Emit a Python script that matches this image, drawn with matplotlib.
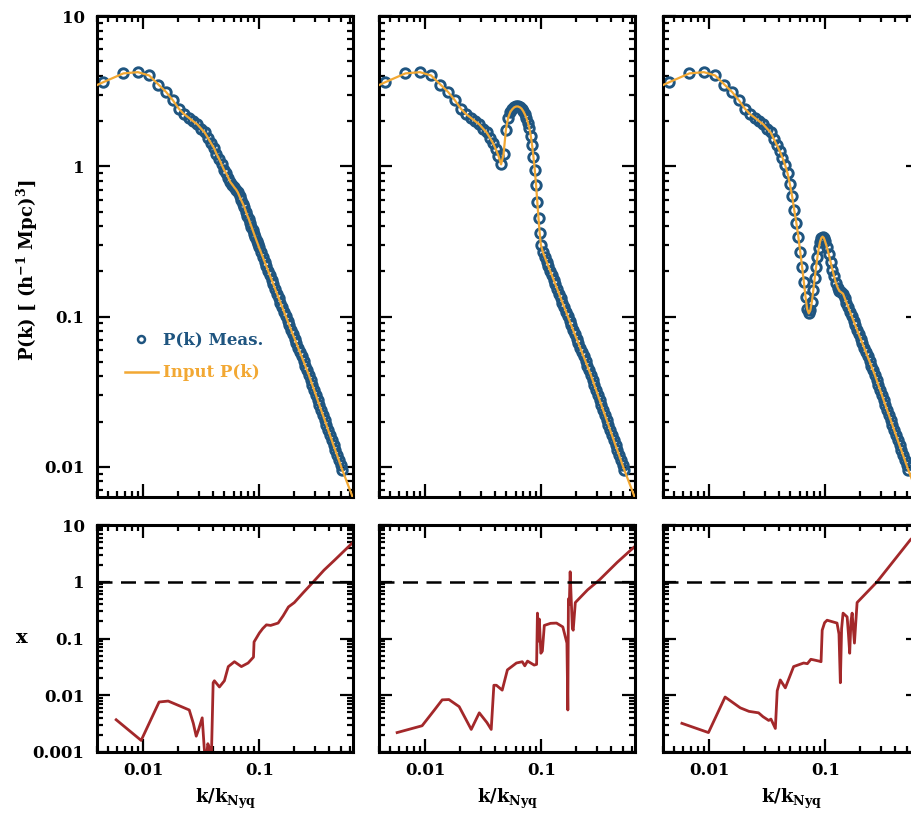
import numpy as np
import matplotlib
matplotlib.use("Agg")
import matplotlib.pyplot as plt
from matplotlib.ticker import LogLocator, FuncFormatter, NullFormatter
from matplotlib.lines import Line2D

plt.rcParams["font.family"] = ["DejaVu Serif"]
plt.rcParams["font.weight"] = "bold"
plt.rcParams["mathtext.fontset"] = "dejavuserif"
plt.rcParams["mathtext.default"] = "bf"

# ── measured P(k): shared k bins ─────────────────────
k_low = [0.0045, 0.00675, 0.009, 0.01125, 0.0135, 0.01575, 0.018, 0.02025,
         0.0225, 0.02475, 0.027, 0.02925, 0.0315, 0.03375]
k_mid = [0.036, 0.03825, 0.0405, 0.04275, 0.045, 0.04725, 0.0495, 0.05175,
         0.054, 0.05625, 0.0585, 0.06075, 0.063, 0.06525, 0.0675, 0.06975,
         0.072, 0.07425, 0.0765, 0.07875, 0.081, 0.08325, 0.0855, 0.08775,
         0.09, 0.09225, 0.0945, 0.09675, 0.099, 0.103, 0.107, 0.111, 0.115,
         0.119, 0.123, 0.128, 0.132, 0.137]
k_high = [0.142, 0.147, 0.152, 0.157, 0.163, 0.169, 0.175, 0.181, 0.187,
          0.194, 0.201, 0.208, 0.216, 0.223, 0.231, 0.24, 0.248, 0.257,
          0.266, 0.276, 0.285, 0.296, 0.306, 0.317, 0.328, 0.34, 0.352,
          0.365, 0.378, 0.391, 0.405, 0.42, 0.435, 0.45, 0.466, 0.483,
          0.5, 0.518]

p_low = [3.62, 4.15, 4.23, 4.02, 3.5, 3.12, 2.75, 2.42, 2.22, 2.10, 1.99,
         1.90, 1.78, 1.68]
p_high = [0.1418, 0.1323, 0.1238, 0.1162, 0.1078, 0.1003, 0.0936, 0.0874,
          0.0819, 0.0762, 0.0713, 0.0667, 0.0619, 0.0581, 0.0543, 0.0504,
          0.0472, 0.044, 0.0411, 0.0379, 0.0353, 0.0325, 0.0302, 0.0279,
          0.0259, 0.0239, 0.0222, 0.0205, 0.019, 0.0176, 0.0163, 0.01505,
          0.0139, 0.01295, 0.012, 0.0111, 0.01028, 0.00954]

# the three panels differ only in the feature region
p_mid_1 = [1.55, 1.43, 1.33, 1.21, 1.12, 1.03, 0.95, 0.90, 0.84, 0.785,
           0.755, 0.725, 0.70, 0.67, 0.63, 0.595, 0.565, 0.535, 0.50, 0.47,
           0.447, 0.42, 0.397, 0.375, 0.355, 0.337, 0.32, 0.305, 0.29,
           0.2688, 0.249, 0.2314, 0.2157, 0.2015, 0.1887, 0.1744, 0.164,
           0.1523]
p_mid_2 = [1.55, 1.43, 1.3, 1.17, 1.03, 1.2, 1.75, 2.1, 2.3, 2.4, 2.47,
           2.5, 2.5, 2.47, 2.42, 2.33, 2.22, 2.1, 1.95, 1.8, 1.6, 1.38,
           1.15, 0.95, 0.75, 0.58, 0.45, 0.36, 0.30, 0.2688, 0.249, 0.2314,
           0.2157, 0.2015, 0.1887, 0.1744, 0.164, 0.1523]
p_mid_3 = [1.52, 1.38, 1.26, 1.14, 1.02, 0.9, 0.76, 0.63, 0.51, 0.42, 0.34,
           0.27, 0.215, 0.17, 0.135, 0.112, 0.105, 0.11, 0.125, 0.15, 0.18,
           0.215, 0.25, 0.285, 0.315, 0.333, 0.34, 0.335, 0.32, 0.29, 0.26,
           0.23, 0.205, 0.185, 0.168, 0.155, 0.148, 0.145]

# input P(k) runs a bit further than the measured bins
k_in_lo, p_in_lo = 0.004, 3.47
k_in_hi, p_in_hi = 0.64, 0.0062

# ── relative error (bottom row) ──────────────────────
k_err_1 = [0.00585, 0.0096, 0.0137, 0.0164, 0.0213, 0.0249, 0.027, 0.0286,
           0.030, 0.0322, 0.0335, 0.0345, 0.0360, 0.037, 0.0385, 0.040,
           0.041, 0.0453, 0.050, 0.054, 0.061, 0.070, 0.080, 0.089, 0.090,
           0.1, 0.107, 0.115, 0.125, 0.145, 0.16, 0.178, 0.2, 0.24, 0.292,
           0.36, 0.444, 0.63]
err_1 = [0.0037, 0.0016, 0.0076, 0.0079, 0.0063, 0.0055, 0.0032, 0.0019,
         0.0025, 0.0040, 0.0012, 0.0006, 0.0014, 0.0012, 0.0006, 0.0166,
         0.018, 0.014, 0.018, 0.032, 0.039, 0.032, 0.037, 0.047, 0.087,
         0.125, 0.15, 0.174, 0.17, 0.187, 0.25, 0.36, 0.43, 0.65, 1.0,
         1.6, 2.4, 4.8]

k_err_2 = [0.00573, 0.0094, 0.012, 0.014, 0.016, 0.0196, 0.0249, 0.0292,
           0.034, 0.037, 0.039, 0.041, 0.046, 0.051, 0.061, 0.0685, 0.072,
           0.076, 0.0867, 0.091, 0.0925, 0.095, 0.096, 0.099, 0.102, 0.106,
           0.12, 0.135, 0.153, 0.166, 0.169, 0.171, 0.174, 0.177, 0.18,
           0.185, 0.188, 0.196, 0.25, 0.315, 0.45, 0.63]
err_2 = [0.0022, 0.0029, 0.0055, 0.0083, 0.0084, 0.0063, 0.0025, 0.0049,
         0.0033, 0.0025, 0.015, 0.015, 0.0123, 0.028, 0.037, 0.039, 0.033,
         0.040, 0.034, 0.035, 0.28, 0.09, 0.22, 0.055, 0.06, 0.17, 0.185,
         0.187, 0.16, 0.083, 0.0055, 0.5, 0.4, 1.5, 0.6, 0.15, 0.14, 0.43,
         0.72, 1.07, 2.2, 4.1]

k_err_3 = [0.00582, 0.00985, 0.0137, 0.0185, 0.022, 0.0266, 0.029, 0.0325,
           0.034, 0.0371, 0.0385, 0.0409, 0.0452, 0.0533, 0.065, 0.07,
           0.075, 0.0793, 0.088, 0.0918, 0.0939, 0.0985, 0.1035, 0.126,
           0.131, 0.1346, 0.138, 0.142, 0.154, 0.158, 0.162, 0.166, 0.17,
           0.178, 0.183, 0.1876, 0.279, 0.54, 0.64]
err_3 = [0.0032, 0.0022, 0.0093, 0.006, 0.0052, 0.0049, 0.0042, 0.0036,
         0.0038, 0.0026, 0.012, 0.0186, 0.0135, 0.032, 0.037, 0.036, 0.043,
         0.042, 0.04, 0.039, 0.14, 0.19, 0.21, 0.187, 0.12, 0.0166, 0.15,
         0.28, 0.24, 0.12, 0.055, 0.2, 0.28, 0.083, 0.2, 0.43, 1.0, 5.5,
         7.5]

p_mids = [p_mid_1, p_mid_2, p_mid_3]
k_errs = [k_err_1, k_err_2, k_err_3]
errs = [err_1, err_2, err_3]

BLUE = "#1f5580"
ORANGE = "#f2a833"
RED = "#a3282a"

W, H = 911, 817
fig = plt.figure(figsize=(W / 100, H / 100), dpi=100)

lefts = [97, 379, 663]
pw = 256
fmt = FuncFormatter(lambda v, p: f"{v:g}")


def style_axis(ax):
    ax.set_xscale("log")
    ax.set_yscale("log")
    ax.xaxis.set_major_locator(LogLocator(base=10, numticks=10))
    ax.xaxis.set_minor_locator(LogLocator(base=10, subs=np.arange(2, 10), numticks=10))
    ax.yaxis.set_major_locator(LogLocator(base=10, numticks=10))
    ax.yaxis.set_minor_locator(LogLocator(base=10, subs=np.arange(2, 10), numticks=10))
    ax.xaxis.set_minor_formatter(NullFormatter())
    ax.yaxis.set_minor_formatter(NullFormatter())
    ax.tick_params(which="both", direction="in", top=True, right=True,
                   width=1.6, labelsize=12)
    ax.tick_params(which="major", length=9.5, pad=9)
    ax.tick_params(which="minor", length=4.5)
    for s in ax.spines.values():
        s.set_linewidth(2.2)
    ax.set_xlim(0.004, 0.64)


for i in range(3):
    k_meas = k_low + k_mid + k_high
    p_meas = p_low + p_mids[i] + p_high

    ax = fig.add_axes([lefts[i] / W, 1 - 497 / H, pw / W, (497 - 16) / H])
    style_axis(ax)
    ax.set_ylim(0.0063, 10)
    ax.plot(k_meas, p_meas, linestyle="none", marker="o", ms=6.8,
            mfc="none", mec=BLUE, mew=2.1, zorder=2)
    ax.plot([k_in_lo] + k_meas + [k_in_hi], [p_in_lo] + p_meas + [p_in_hi],
            color=ORANGE, lw=1.6, zorder=3)
    ax.xaxis.set_major_formatter(NullFormatter())
    if i == 0:
        ax.yaxis.set_major_formatter(fmt)
        handles = [Line2D([], [], linestyle="none", marker="o", ms=5,
                          mfc="none", mec=BLUE, mew=1.8),
                   Line2D([], [], color=ORANGE, lw=1.8)]
        ax.legend(handles, ["P(k) Meas.", "Input P(k)"], loc="upper left",
                  bbox_to_anchor=(0.05, 0.375), frameon=False, fontsize=12,
                  labelcolor=[BLUE, ORANGE], handlelength=2.0,
                  handletextpad=0.3, labelspacing=0.95)
    else:
        ax.yaxis.set_major_formatter(NullFormatter())

    bx = fig.add_axes([lefts[i] / W, 1 - 752 / H, pw / W, (752 - 525) / H])
    style_axis(bx)
    bx.set_ylim(0.001, 10)
    bx.plot(k_errs[i], errs[i], color=RED, lw=2.0, zorder=2)
    bx.axhline(1.0, color="black", lw=1.8, linestyle=(0, (6, 3.4)), zorder=3)
    bx.xaxis.set_major_formatter(fmt)
    bx.tick_params(axis="x", which="major", pad=7)
    if i == 0:
        bx.yaxis.set_major_formatter(fmt)
    else:
        bx.yaxis.set_major_formatter(NullFormatter())
    fig.text((lefts[i] + pw / 2) / W, 1 - 799 / H, r"k/k$_{Nyq}$",
             ha="center", va="center", fontsize=13, fontweight="bold")

fig.text(27 / W, 1 - 270 / H, r"P(k) [ (h$^{-1}$ Mpc)$^{3}$]", rotation=90,
         ha="center", va="center", fontsize=13, fontweight="bold")
fig.text(22 / W, 1 - 638 / H, "x", ha="center", va="center",
         fontsize=14, fontweight="bold")

fig.savefig("out.png", dpi=100)
